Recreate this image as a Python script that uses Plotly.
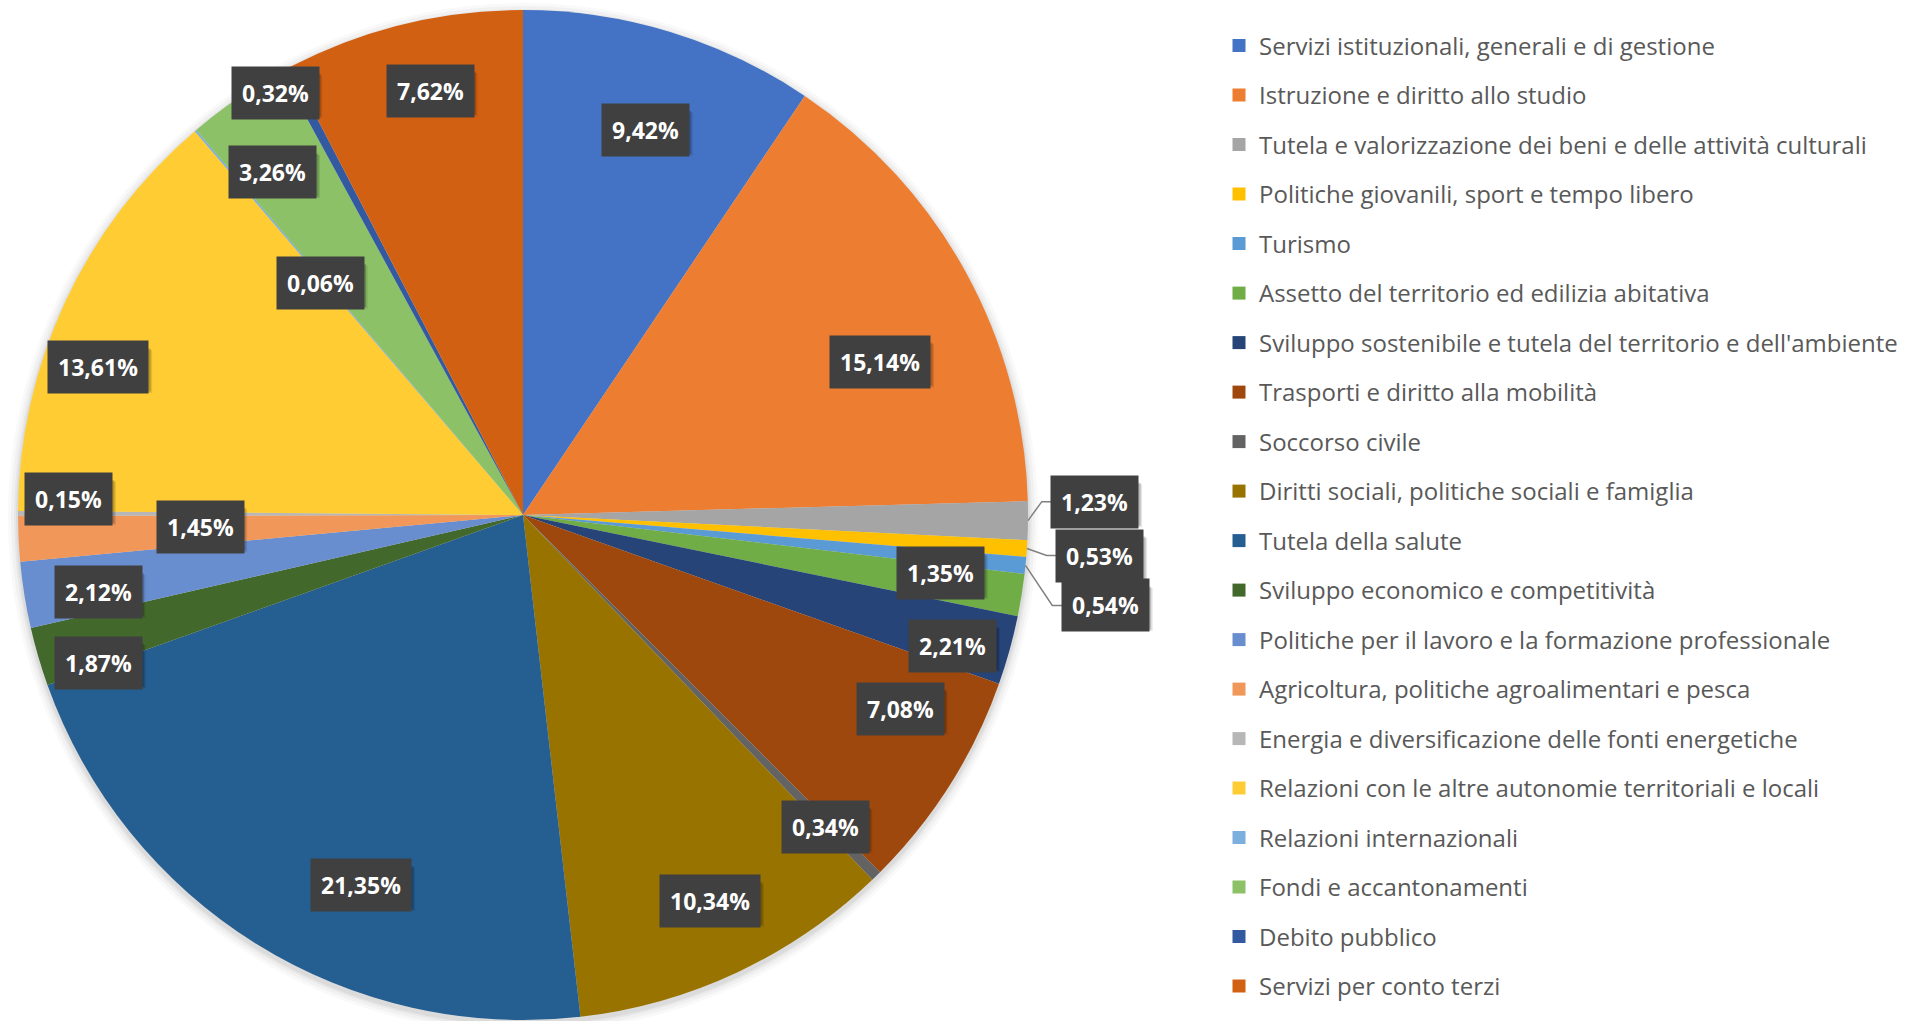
import math
import plotly.graph_objects as go

# ---------------- data ----------------
categories = [
    "Servizi istituzionali, generali e di gestione",
    "Istruzione e diritto allo studio",
    "Tutela e valorizzazione dei beni e delle attività culturali",
    "Politiche giovanili, sport e tempo libero",
    "Turismo",
    "Assetto del territorio ed edilizia abitativa",
    "Sviluppo sostenibile e tutela del territorio e dell'ambiente",
    "Trasporti e diritto alla mobilità",
    "Soccorso civile",
    "Diritti sociali, politiche sociali e famiglia",
    "Tutela della salute",
    "Sviluppo economico e competitività",
    "Politiche per il lavoro e la formazione professionale",
    "Agricoltura, politiche agroalimentari e pesca",
    "Energia e diversificazione delle fonti energetiche",
    "Relazioni con le altre autonomie territoriali e locali",
    "Relazioni internazionali",
    "Fondi e accantonamenti",
    "Debito pubblico",
    "Servizi per conto terzi",
]
values = [9.42, 15.14, 1.23, 0.53, 0.54, 1.35, 2.21, 7.08, 0.34, 10.34,
          21.35, 1.87, 2.12, 1.45, 0.15, 13.61, 0.06, 3.26, 0.32, 7.62]

# ---------------- style ----------------
colors = ["#4472C4", "#ED7D31", "#A5A5A5", "#FFC000", "#5B9BD5", "#70AD47",
          "#264478", "#9E480E", "#636363", "#997300", "#255E91", "#43682B",
          "#698ED0", "#F1975A", "#B7B7B7", "#FFCD33", "#7CAFDD", "#8CC168",
          "#335AA1", "#D26012"]
# "best fit" label placement: radius factor and angular nudge (deg) per slice
label_rf = [0.80, 0.77, None, None, None, 0.835, 0.89, 0.84, 0.86, 0.85,
            0.80, 0.89, 0.855, 0.64, 0.90, 0.89, 0.61, 0.84, 0.97, 0.86]
label_da = [0.7, 5.6, 0, 0, 0, -1.2, 1.4, -5.1, 0.3, -0.7,
            -8.3, -2.9, -1.2, 0.6, 1.8, -5.8, -0.7, -1.7, -2.4, 1.4]
# labels placed outside with leader lines: pixel offset from slice rim
outside_offset = {2: (67, -19), 3: (73, 7), 4: (80, 40)}

W, H = 1923, 1021
CX, CY, R = 523, 515, 505
FONT = "Open Sans, Lato, Roboto, sans-serif"
LBL_SIZE = 23
PAD = 10


def to_paper(x, y):
    return x / W, 1 - y / H


def box_size(text):
    # approximate rendered size of a bold label box (for its drop shadow)
    w = 0.0
    for ch in text:
        if ch.isdigit():
            w += 0.572
        elif ch == ",":
            w += 0.29
        elif ch == "%":
            w += 0.88
    return w * LBL_SIZE + 2 * PAD, LBL_SIZE + 2 * PAD


fig = go.Figure()

# soft shadow under the pie
for k, a in [(10, 0.025), (7, 0.03), (4, 0.04), (2, 0.05)]:
    x0, y0 = to_paper(CX - R - k, CY - R - k + 3)
    x1, y1 = to_paper(CX + R + k, CY + R + k + 3)
    fig.add_shape(type="circle", xref="paper", yref="paper",
                  x0=x0, x1=x1, y0=y0, y1=y1, layer="below",
                  fillcolor=f"rgba(0,0,0,{a})", line_width=0)

dx0, dy1 = to_paper(CX - R, CY - R)
dx1, dy0 = to_paper(CX + R, CY + R)
fig.add_trace(go.Pie(
    labels=categories, values=values, sort=False, direction="clockwise",
    rotation=0, textinfo="none", hoverinfo="label+percent",
    marker=dict(colors=colors, line=dict(width=0)),
    domain=dict(x=[dx0, dx1], y=[dy0, dy1]), showlegend=False,
))

# legend entries
for cat, col in zip(categories, colors):
    fig.add_trace(go.Scatter(
        x=[None], y=[None], mode="markers", name=cat, legendgroup=cat,
        marker=dict(symbol="square", size=13, color=col), hoverinfo="skip",
    ))

# data labels
total = sum(values)
cum = 0.0
for i, v in enumerate(values):
    mid = (cum + v / 2) / total * 360.0
    cum += v
    text = f"{v:.2f}".replace(".", ",") + "%"
    bw, bh = box_size(text)
    if i in outside_offset:
        th = math.radians(mid)
        px_, py_ = CX + R * math.sin(th), CY - R * math.cos(th)
        ox, oy = outside_offset[i]
        lx, ly = px_ + ox, py_ + oy
        left = lx - bw / 2
        ex = left - 10
        p = [to_paper(px_, py_), to_paper(ex, ly), to_paper(left, ly)]
        path = "M {} {} L {} {} L {} {}".format(p[0][0], p[0][1], p[1][0], p[1][1], p[2][0], p[2][1])
        fig.add_shape(type="path", xref="paper", yref="paper", path=path,
                      line=dict(color="#808080", width=1.5))
    else:
        th = math.radians(mid + label_da[i])
        r = label_rf[i] * R
        lx, ly = CX + r * math.sin(th), CY - r * math.cos(th)
    # drop shadow of the label box
    for off, a in [(4, 0.10), (2.5, 0.18)]:
        sx0, sy0 = to_paper(lx - bw / 2 + off, ly + bh / 2 + off)
        sx1, sy1 = to_paper(lx + bw / 2 + off, ly - bh / 2 + off)
        fig.add_shape(type="rect", xref="paper", yref="paper",
                      x0=sx0, x1=sx1, y0=sy0, y1=sy1,
                      fillcolor=f"rgba(0,0,0,{a})", line_width=0)
    ax_, ay_ = to_paper(lx, ly)
    fig.add_annotation(x=ax_, y=ay_, xref="paper", yref="paper", text=f"<b>{text}</b>",
                       showarrow=False, xanchor="center", yanchor="middle",
                       bgcolor="#404040", borderpad=PAD,
                       font=dict(family=FONT, size=LBL_SIZE, color="white"))

fig.update_layout(
    width=W, height=H, margin=dict(l=0, r=0, t=0, b=0),
    paper_bgcolor="white", plot_bgcolor="rgba(0,0,0,0)",
    xaxis=dict(visible=False, domain=[0.99, 1]), yaxis=dict(visible=False, domain=[0.99, 1]),
    legend=dict(x=1219 / W, y=1 - 23.5 / H, xanchor="left", yanchor="top",
                font=dict(family=FONT, size=24, color="#595959"),
                tracegroupgap=15.3, itemwidth=30, traceorder="grouped",
                bgcolor="rgba(0,0,0,0)"),
    showlegend=True,
)

fig.write_html("out.html", config={"displayModeBar": False},
               post_script="document.body.style.margin='0px';")
